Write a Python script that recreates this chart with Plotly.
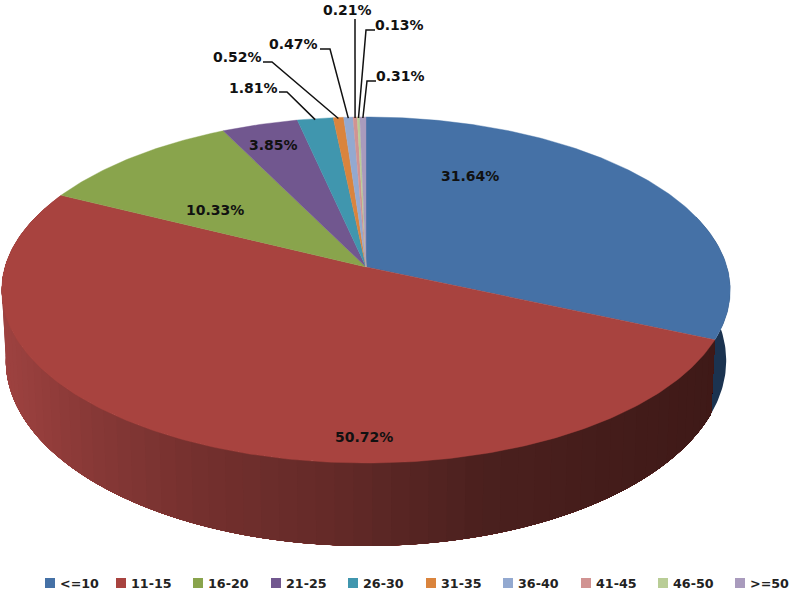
import numpy as np
import plotly.graph_objects as go

categories = ["<=10", "11-15", "16-20", "21-25", "26-30", "31-35", "36-40", "41-45", "46-50", ">=50"]
shares = [31.64, 50.72, 10.33, 3.85, 1.81, 0.52, 0.47, 0.21, 0.13, 0.31]
labels = ["31.64%", "50.72%", "10.33%", "3.85%", "1.81%", "0.52%", "0.47%", "0.21%", "0.13%", "0.31%"]
top_colors = ["#4571A6", "#A8433F", "#89A44C", "#71578F", "#4096AE", "#DA843D", "#93A9D0", "#D19392", "#B9CD96", "#A99BBD"]
wall_blue = "#1B3350"

# label anchor (px), elbow (px), for each slice; None = label sits on the slice
label_xy = [(470, 176), (364, 437), (215, 210), (273, 145), (253, 88), (237.5, 57), (293.5, 44), (347.5, 10), (399.5, 25), (400, 76)]
elbow_xy = [None, None, None, None, [(287, 92), (279, 92)], [(272, 62), (263, 62)], [(330, 49), (320, 49)],
            [(355, 19)], [(366, 30), (375, 30)], [(367, 81), (376, 81)]]
legend_x = [50, 121, 198, 276, 353, 431, 508, 586, 663, 740]
LEGEND_Y = 583

CX, CY = 366.0, 267.0
R, B, K = 361.0, 170.0, 0.133
R2, B2, Y2 = 357.0, 182.0, 336.0
FONT = "DejaVu Sans"


def project(theta, r, b, y0):
    sx, cy = np.sin(theta), np.cos(theta)
    w = 1 + K * cy
    return CX + r * sx / w, y0 - b * cy / w


def rgb_at(x):
    xs = [5, 100, 200, 330, 480, 720]
    rr = [158, 134, 116, 100, 75, 62]
    gg = [66, 56, 48, 42, 32, 25]
    bb = [64, 54, 46, 40, 30, 23]
    return f"rgb({np.interp(x, xs, rr):.0f},{np.interp(x, xs, gg):.0f},{np.interp(x, xs, bb):.0f})"


total = sum(shares)
edges = np.concatenate([[0], np.cumsum(shares)]) / total * 2 * np.pi

fig = go.Figure()


def wall_strip(a, b, col):
    t = np.linspace(a, b, max(3, int((b - a) * 70)))
    x1, y1 = project(t, R, B, CY)
    x2, y2 = project(t[::-1], R2, B2, Y2)
    fig.add_trace(go.Scatter(x=np.r_[x1, x2], y=np.r_[y1, y2], mode="lines", fill="toself", fillcolor=col,
                             line=dict(color=col, width=0), hoverinfo="skip", showlegend=False))


# side wall: only the blue and red slices face the viewer; strips overlap to hide seams
wall_strip(np.pi * 0.40, edges[1], wall_blue)
ts = np.linspace(edges[1], edges[2], 71)
for j in range(len(ts) - 1, 0, -1):
    end = ts[j]
    x_ref = project(np.array([(ts[j - 1] + end) / 2]), R2, B2, Y2)[0][0]
    wall_strip(edges[1], end, rgb_at(float(x_ref)))

# top face
for i, cat in enumerate(categories):
    n = max(4, int((edges[i + 1] - edges[i]) * 80))
    t = np.linspace(edges[i], edges[i + 1], n)
    x, y = project(t, R, B, CY)
    fig.add_trace(go.Scatter(x=np.r_[CX, x, CX], y=np.r_[CY, y, CY], mode="lines", fill="toself",
                             fillcolor=top_colors[i], line=dict(color=top_colors[i], width=0.4),
                             name=cat, hoverinfo="skip", showlegend=False))

# leader lines
for i in range(len(categories)):
    if elbow_xy[i] is None:
        continue
    mid = (edges[i] + edges[i + 1]) / 2
    sx, sy = project(np.array([mid]), R, B, CY)
    pts = [(float(sx[0]), float(sy[0]) + 1)] + elbow_xy[i]
    fig.add_trace(go.Scatter(x=[p[0] for p in pts], y=[p[1] for p in pts], mode="lines",
                             line=dict(color="#111111", width=1.5), hoverinfo="skip", showlegend=False))

# legend row: swatch plus text
for i, cat in enumerate(categories):
    fig.add_trace(go.Scatter(x=[legend_x[i]], y=[LEGEND_Y], mode="markers", name=cat, showlegend=False,
                             hoverinfo="skip", marker=dict(symbol="square", size=10, color=top_colors[i], line=dict(width=0))))
    fig.add_annotation(x=legend_x[i] + 8, y=LEGEND_Y, text=cat.replace("<", "&lt;"), showarrow=False, xanchor="left", yanchor="middle",
                       font=dict(family=FONT, size=12.7, color="#222222", weight=700))

for (lx, ly), txt in zip(label_xy, labels):
    fig.add_annotation(x=lx, y=ly, text=txt, showarrow=False,
                       font=dict(family=FONT, size=14, color="#111111", weight=700), xanchor="center", yanchor="middle")

fig.update_xaxes(range=[0, 790], visible=False, fixedrange=True)
fig.update_yaxes(range=[590, 0], visible=False, fixedrange=True)

fig.update_layout(width=790, height=590, margin=dict(l=0, r=0, t=0, b=0, autoexpand=False),
                  paper_bgcolor="white", plot_bgcolor="white", showlegend=False)

fig.write_html("out.html", config={"displayModeBar": False},
               post_script="document.body.style.margin='0';document.body.style.overflow='hidden';")
